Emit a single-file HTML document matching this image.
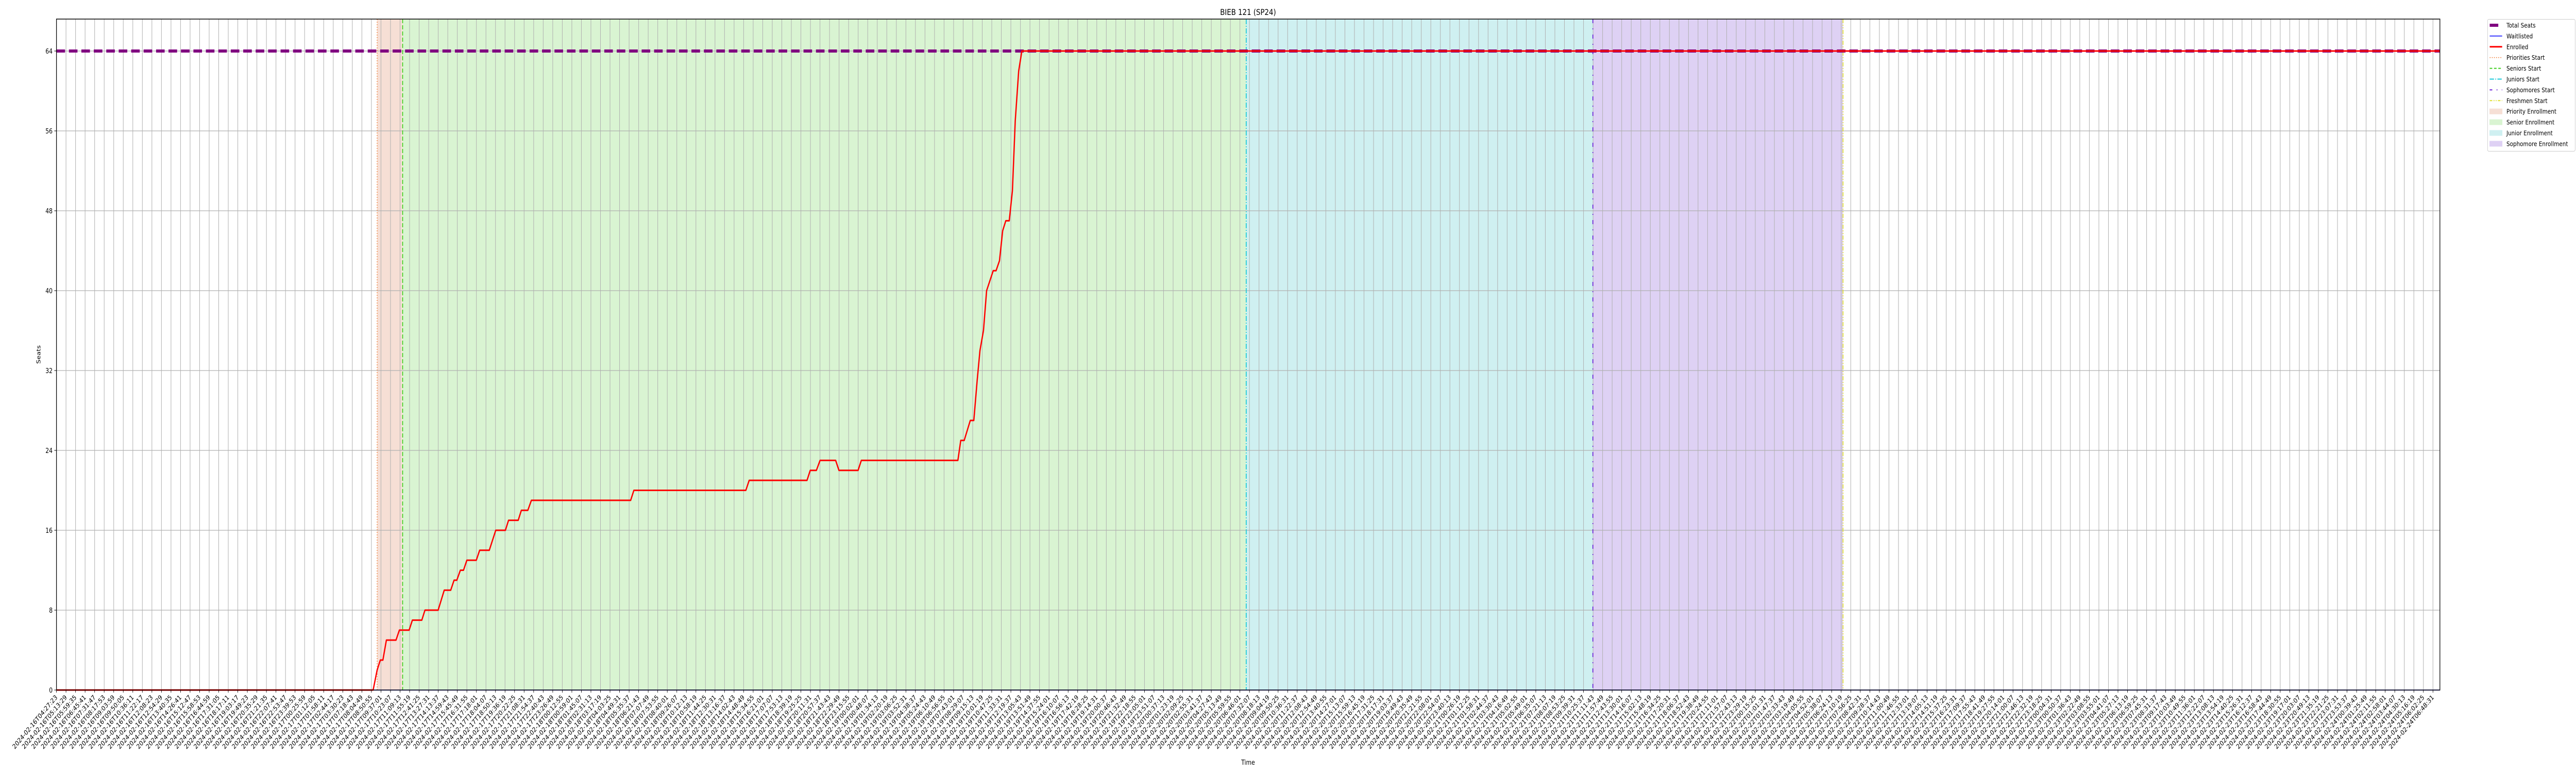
<!DOCTYPE html>
<html><head><meta charset="utf-8"><title>BIEB 121 (SP24)</title>
<style>
html,body{margin:0;padding:0;background:#fff;width:100%;height:100%;overflow:hidden;}
svg{display:block;overflow:hidden;width:100vw;height:100vh;font-family:"DejaVu Sans","Liberation Sans",sans-serif;}
</style></head>
<body>
<svg id="chart" xmlns="http://www.w3.org/2000/svg" viewBox="0 0 6000 1500" preserveAspectRatio="none">
<rect x="0" y="0" width="6000" height="1500" fill="#fff"/>
<g id="spans"></g>
<g id="grid"></g>
<g id="vlines"></g>
<g id="series"></g>
<rect x="131.5" y="37" width="5551.5" height="1302" fill="none" stroke="#000" stroke-width="1.5"/>
<g id="axes"></g>
<text x="2907" y="29" font-size="16" text-anchor="middle">BIEB 121 (SP24)</text>
<text x="2907" y="1484" font-size="13" text-anchor="middle">Time</text>
<text x="0" y="0" font-size="13" text-anchor="middle" transform="translate(94,688) rotate(-90)">Seats</text>
<g id="legend"></g>
</svg>
<script>
// ---- data ----
const yTicks = [0, 8, 16, 24, 32, 40, 48, 56, 64];
const totalSeats = 64;
const enrolledPos = [0, 33.18, 33.60, 33.93, 34.20, 34.57, 35.58, 35.93, 36.95, 37.29, 38.28, 38.61, 39.99, 40.63, 41.31, 41.66, 41.95, 42.32, 42.65, 43.00, 43.99, 44.34, 45.35, 46.03, 47.04, 47.37, 48.38, 48.71, 49.39, 49.76, 60.16, 60.50, 72.23, 72.58, 78.64, 78.98, 79.62, 80.01, 81.64, 81.99, 83.99, 84.33, 94.45, 94.75, 95.11, 95.75, 96.12, 96.47, 96.76, 97.13, 97.46, 98.15, 98.45, 98.81, 99.14, 99.47, 99.83, 100.16, 100.46, 100.82, 101.15, 249.73];
const enrolledVal = [0, 0, 2, 3, 3, 5, 5, 6, 6, 7, 7, 8, 8, 10, 10, 11, 11, 12, 12, 13, 13, 14, 14, 16, 16, 17, 17, 18, 18, 19, 19, 20, 20, 21, 21, 22, 22, 23, 23, 22, 22, 23, 23, 25, 25, 27, 27, 31, 34, 36, 40, 42, 42, 43, 46, 47, 47, 50, 57, 62, 64, 64];
const waitlistPos = [0, 249.73];
const waitlistVal = [0, 0];
const phaseNames = ["priorities", "seniors", "juniors", "sophomores", "freshmen"];
const phaseStarts = [33.60, 36.27, 124.66, 160.98, 187.19];
const tickCount = 250;
const tickStart = "2024-02-16T04:27:23";
const tickGapAt = 31;
const tickStepSec = 2766;
const tickGapSec = 13700;

const tickLabels = [];
(function(){
  let t = Date.parse(tickStart + "Z");
  for (let i = 0; i < tickCount; i++) {
    tickLabels.push(new Date(t).toISOString().slice(0, 19));
    t += (i === tickGapAt - 1 ? tickGapSec : tickStepSec) * 1000;
  }
})();

// ---- axes ----
const L = 131.5, R = 5683, T = 37, B = 1339;
const xStep = 22.23;
const yMax = 67.2;
function xPx(p){ return L + p * xStep; }
function yPx(v){ return B - v * (B - T) / yMax; }

const NS = "http://www.w3.org/2000/svg";
function mk(tag, attrs, parent){
  const e = document.createElementNS(NS, tag);
  for (const k in attrs) e.setAttribute(k, attrs[k]);
  parent.appendChild(e);
  return e;
}
const gSpans = document.getElementById("spans");
const gGrid = document.getElementById("grid");
const gV = document.getElementById("vlines");
const gS = document.getElementById("series");
const gA = document.getElementById("axes");
const gL = document.getElementById("legend");

const spanColors = ["#f6dfd5", "#d9f4d2", "#cff0f1", "#ded1f4"];
const spanNames = ["priority-enrollment-span", "senior-enrollment-span", "junior-enrollment-span", "sophomore-enrollment-span"];
for (let i = 0; i < 4; i++) {
  const r = mk("rect", {x: xPx(phaseStarts[i]), y: T, width: xPx(phaseStarts[i+1]) - xPx(phaseStarts[i]), height: B - T, fill: spanColors[i]}, gSpans);
  
  
}

for (let i = 0; i < tickCount; i++) {
  const x = xPx(i);
  const gl = mk("line", {x1: x, x2: x, y1: T, y2: B, stroke: "#b0b0b0", "stroke-width": 1.2}, gGrid);
  
  
  const tk = mk("line", {x1: x, x2: x, y1: B, y2: B + 5, stroke: "#000", "stroke-width": 1}, gA);
  
  
  const tx = mk("text", {x: 0, y: 0, "font-size": 13, "text-anchor": "end", transform: "translate(" + (x + 3) + "," + (B + 15) + ") rotate(-45)"}, gA);
  tx.textContent = tickLabels[i];
  
  
}
for (const v of yTicks) {
  const y = yPx(v);
  const gl = mk("line", {x1: L, x2: R, y1: y, y2: y, stroke: "#b0b0b0", "stroke-width": 1.2}, gGrid);
  
  
  const tk = mk("line", {x1: L - 5, x2: L, y1: y, y2: y, stroke: "#000", "stroke-width": 1}, gA);
  
  
  const tx = mk("text", {x: L - 9, y: y + 5, "font-size": 13, "text-anchor": "end"}, gA);
  tx.textContent = v;
  
  
}

const vStyles = [
  {stroke: "#f0803c", dash: "2,3", w: 1.6},
  {stroke: "#3fcf1f", dash: "8,4", w: 2},
  {stroke: "#17c9d9", dash: "10,3,2,3", w: 2},
  {stroke: "#6a1fd6", dash: "8,10,2,10", w: 2},
  {stroke: "#e0e030", dash: "8,3,2,3,2,3", w: 2}
];
for (let i = 0; i < 5; i++) {
  const x = xPx(phaseStarts[i]);
  const ln = mk("line", {x1: x, x2: x, y1: T, y2: B, stroke: vStyles[i].stroke, "stroke-width": vStyles[i].w, "stroke-dasharray": vStyles[i].dash}, gV);
  
  
}

const ts = mk("line", {x1: L, x2: R, y1: yPx(totalSeats), y2: yPx(totalSeats), stroke: "#800080", "stroke-width": 6, "stroke-dasharray": "20,9"}, gS);



function pts(ps, vs){ return ps.map((p, i) => xPx(p).toFixed(1) + "," + yPx(vs[i]).toFixed(1)).join(" "); }
const wl = mk("polyline", {points: pts(waitlistPos, waitlistVal), fill: "none", stroke: "#0000ff", "stroke-width": 1.5}, gS);


const en = mk("polyline", {points: pts(enrolledPos, enrolledVal), fill: "none", stroke: "#ff0000", "stroke-width": 3, "stroke-linejoin": "round"}, gS);



const lb = mk("rect", {x: 5794, y: 37.5, width: 204, height: 256, rx: 3, fill: "#fff", "fill-opacity": 0.8, stroke: "#cccccc", "stroke-width": 1}, gL);


const legItems = [
  {t: "Total Seats", k: "line", c: "#800080", w: 6, d: "20,9"},
  {t: "Waitlisted", k: "line", c: "#0000ff", w: 1.5, d: ""},
  {t: "Enrolled", k: "line", c: "#ff0000", w: 3, d: ""},
  {t: "Priorities Start", k: "line", c: "#f0803c", w: 1.6, d: "2,3"},
  {t: "Seniors Start", k: "line", c: "#3fcf1f", w: 2, d: "6,4"},
  {t: "Juniors Start", k: "line", c: "#17c9d9", w: 2, d: "10,3,2,3"},
  {t: "Sophomores Start", k: "line", c: "#6a1fd6", w: 2, d: "6,10,2,10"},
  {t: "Freshmen Start", k: "line", c: "#e0e030", w: 2, d: "6,3,2,3,2,3"},
  {t: "Priority Enrollment", k: "patch", c: "#f6dfd5"},
  {t: "Senior Enrollment", k: "patch", c: "#d9f4d2"},
  {t: "Junior Enrollment", k: "patch", c: "#cff0f1"},
  {t: "Sophomore Enrollment", k: "patch", c: "#ded1f4"}
];
legItems.forEach((it, i) => {
  const y = 49 + i * 20.9;
  const g = mk("g", {}, gL);
  
  
  if (it.k === "line") {
    mk("line", {x1: 5799, x2: 5828, y1: y, y2: y, stroke: it.c, "stroke-width": it.w, "stroke-dasharray": it.d}, g);
  } else {
    mk("rect", {x: 5799, y: y - 5, width: 29, height: 10, fill: it.c, stroke: it.c}, g);
  }
  const tx = mk("text", {x: 5838, y: y + 4.5, "font-size": 12.5}, g);
  tx.textContent = it.t;
});
</script>
</body></html>
